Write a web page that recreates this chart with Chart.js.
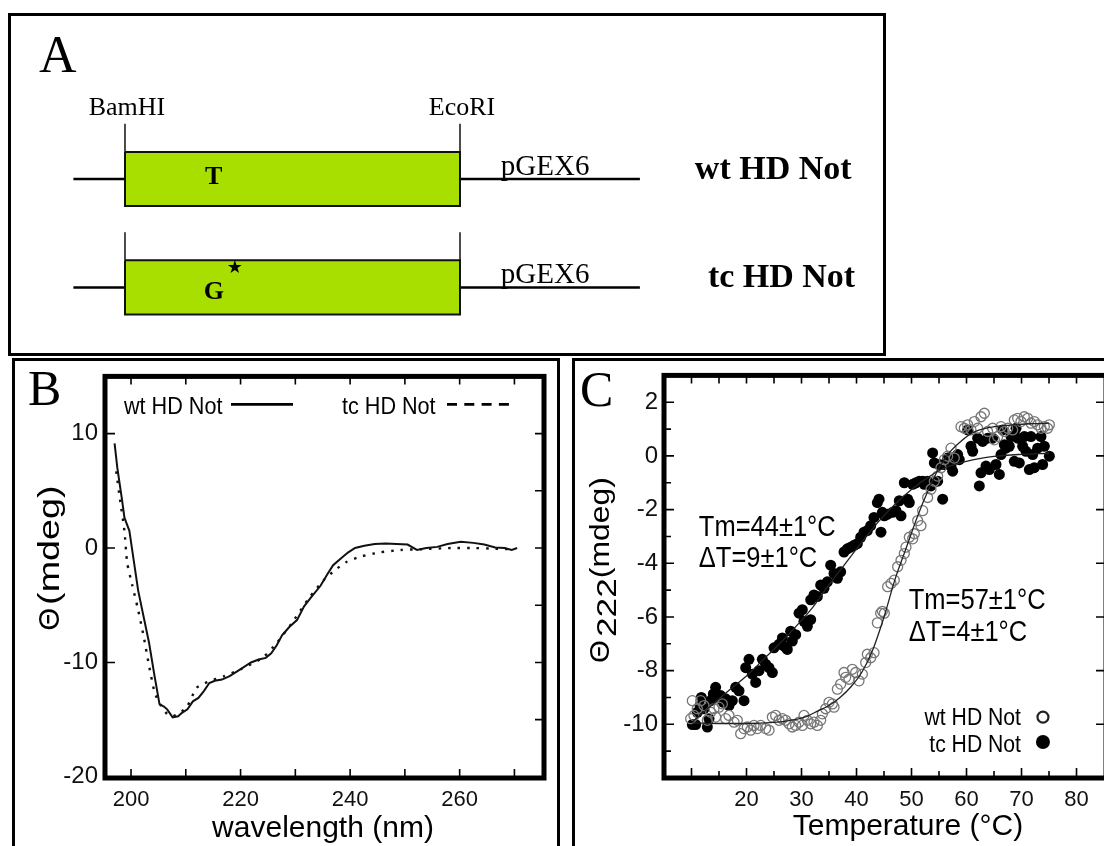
<!DOCTYPE html>
<html>
<head>
<meta charset='utf-8'>
<title>HD Not constructs, CD spectra and thermal melts</title>
<style>
  html, body { margin: 0; padding: 0; background: #fff; }
  body { position: relative; width: 1104px; height: 846px; overflow: hidden; }
  .frame { position: absolute; box-sizing: border-box; border: 3px solid #000; }
  canvas { position: absolute; }
</style>
</head>
<body>
  <div class="frame" style="left: 8px; top: 13px; width: 878px; height: 343px;"></div>
  <div class="frame" style="left: 12px; top: 358px; width: 548px; height: 540px;"></div>
  <div class="frame" style="left: 572px; top: 358px; width: 560px; height: 540px;"></div>
  <canvas id="chart-a" width="900" height="358" style="left: 0; top: 0;"></canvas>
  <canvas id="chart-b" width="560" height="491" style="left: 0; top: 355px;"></canvas>
  <canvas id="chart-c" width="560" height="491" style="left: 570px; top: 355px;"></canvas>

  <script src="https://cdn.jsdelivr.net/npm/chart.js"></script>
  <script>
// ---- A: constructs (schematic units, insert runs from BamHI=0 to EcoRI=100)
const siteNames = ['BamHI', 'EcoRI'];
const sitePos = [0, 100];
const backboneEnds = [-15.4, 153.7];
const constructNames = ['wt HD Not', 'tc HD Not'];
const codonLetters = ['T', 'G'];
const codonPos = 26.5;
const mutatedRow = 1;
const vectorName = 'pGEX6';

// ---- B: CD spectra
const wtWavelength = [197.0, 197.5, 198.3, 198.8, 199.7, 200.5, 201.3, 202.3, 203.3, 204.3, 205.2, 206.0, 206.6, 207.6, 208.6, 209.3, 210.3, 211.3, 212.3, 213.3, 214.3, 215.3, 216.6, 218.0, 219.3, 220.3, 221.9, 223.3, 224.6, 225.6, 226.6, 227.6, 228.9, 230.3, 231.6, 232.9, 234.6, 235.9, 236.9, 238.2, 239.6, 240.9, 242.6, 244.5, 246.5, 248.5, 250.5, 252.2, 253.9, 255.9, 257.8, 260.2, 262.5, 264.5, 266.5, 268.2, 269.5, 270.5];
const wtTheta = [9.15, 7.0, 4.4, 2.65, 1.5, -1.1, -3.7, -6.0, -8.3, -11.2, -13.65, -13.85, -14.1, -14.8, -14.7, -14.4, -14.1, -13.4, -13.1, -12.5, -11.8, -11.6, -11.5, -11.2, -10.8, -10.5, -10.0, -9.75, -9.6, -9.2, -8.5, -7.6, -6.9, -6.3, -5.1, -4.3, -3.3, -2.25, -1.5, -0.95, -0.4, 0.0, 0.2, 0.35, 0.4, 0.35, 0.3, -0.17, 0.0, 0.1, 0.35, 0.55, 0.45, 0.3, 0.05, 0.0, -0.17, 0.0];
const tcWavelength = [197.3, 198.0, 198.8, 199.3, 200.2, 201.2, 202.3, 203.3, 204.3, 205.3, 206.6, 207.6, 209.0, 210.3, 212.0, 214.0, 217.0, 220.0, 224.0, 226.6, 229.3, 232.6, 235.2, 237.2, 239.2, 241.9, 245.2, 249.2, 253.2, 258.5, 262.5, 265.8, 269.2];
const tcTheta = [6.7, 4.2, 1.5, -1.3, -3.2, -5.2, -7.7, -10.3, -12.6, -13.65, -14.5, -14.7, -14.4, -13.8, -12.2, -11.7, -11.2, -10.6, -9.6, -8.3, -6.6, -4.3, -2.8, -1.95, -1.25, -0.75, -0.4, -0.17, -0.1, 0.0, 0.0, -0.05, -0.1];
const bTickX = [200, 220, 240, 260];
const bTickY = [-20, -10, 0, 10];
const bMarkX = [200, 210, 220, 230, 240, 250, 260, 270];
const bMarkYRight = [-15, -10, -5, 0, 5, 10];

// ---- C: thermal denaturation at 222 nm
const wtTemp = [9.85, 10.15, 10.45, 11.06, 11.67, 12.27, 12.88, 13.48, 14.09, 14.39, 15.0, 15.61, 16.21, 16.82, 17.73, 18.33, 18.94, 19.55, 20.15, 20.76, 21.36, 21.97, 22.58, 23.48, 24.09, 24.7, 25.3, 25.91, 26.52, 27.12, 27.73, 28.33, 28.94, 29.55, 30.15, 30.45, 31.06, 31.67, 32.27, 32.88, 33.48, 33.79, 34.39, 35.0, 35.61, 35.91, 36.52, 37.12, 37.73, 38.03, 38.64, 39.24, 39.85, 40.45, 41.06, 41.67, 41.97, 42.58, 43.18, 43.79, 44.39, 44.7, 45.06, 45.66, 46.27, 46.87, 47.48, 48.09, 48.69, 48.99, 49.6, 50.21, 50.51, 51.12, 51.72, 52.03, 52.93, 53.54, 54.15, 54.75, 55.36, 55.97, 56.57, 57.18, 57.78, 59.0, 59.6, 60.21, 60.81, 61.42, 62.03, 62.63, 63.24, 63.84, 64.75, 65.06, 65.66, 66.27, 66.87, 67.48, 68.39, 68.69, 69.3, 69.9, 70.51, 71.12, 71.72, 72.33, 72.93, 73.54, 74.15, 74.75, 75.06];
const wtTheta222 = [-9.79, -9.12, -9.67, -9.42, -9.12, -9.3, -9.85, -9.55, -9.42, -9.73, -9.36, -9.24, -9.79, -9.67, -9.92, -9.85, -10.35, -10.16, -10.1, -10.22, -10.04, -10.16, -10.04, -10.16, -10.22, -9.73, -9.67, -9.85, -9.79, -9.85, -9.98, -10.1, -10.04, -9.92, -10.04, -9.67, -9.85, -9.98, -9.92, -10.04, -9.85, -9.61, -9.42, -9.18, -9.24, -9.36, -8.69, -8.5, -8.07, -8.25, -8.32, -7.95, -8.07, -8.38, -8.13, -7.7, -7.39, -7.52, -7.33, -6.22, -5.86, -5.79, -5.86, -4.87, -4.75, -4.63, -4.13, -3.89, -3.64, -3.4, -3.03, -3.09, -2.9, -2.41, -2.6, -2.04, -1.55, -1.24, -0.94, -0.75, -0.44, -0.14, -0.01, 0.29, -0.08, 1.09, 1.03, 1.16, 0.97, 1.28, 1.03, 1.46, 1.59, 0.91, 1.03, 0.6, 0.72, 1.09, 0.91, 1.03, 0.97, 1.34, 1.4, 1.28, 1.46, 1.4, 1.22, 1.28, 1.16, 1.03, 1.09, 1.03, 1.16];
const tcTemp = [10.15, 10.76, 11.06, 11.55, 11.79, 12.27, 12.88, 13.18, 13.48, 13.97, 14.39, 14.7, 15.3, 15.79, 16.21, 16.82, 17.42, 18.03, 18.64, 19.55, 19.85, 20.45, 21.06, 21.67, 22.27, 22.88, 23.48, 24.09, 24.7, 25.0, 25.91, 26.52, 26.82, 27.42, 28.03, 28.33, 28.94, 29.55, 30.15, 30.45, 31.06, 31.67, 31.67, 32.27, 32.88, 33.48, 34.09, 34.7, 35.3, 35.91, 36.52, 37.12, 37.73, 38.33, 38.94, 39.55, 40.15, 40.76, 41.36, 41.97, 42.58, 43.18, 43.79, 44.09, 44.45, 44.7, 45.06, 45.66, 46.57, 47.18, 47.78, 48.09, 48.69, 49.3, 49.6, 50.21, 50.81, 51.42, 52.03, 52.33, 52.93, 53.54, 53.84, 54.15, 54.75, 55.06, 55.66, 55.97, 56.57, 57.18, 57.48, 58.09, 58.39, 58.69, 60.21, 60.81, 61.12, 62.03, 62.33, 62.63, 62.93, 63.54, 63.84, 64.15, 64.75, 65.36, 65.97, 66.27, 66.57, 66.87, 67.18, 67.78, 68.09, 68.69, 69.0, 69.3, 69.6, 70.21, 70.51, 70.81, 71.42, 71.72, 72.03, 72.33, 72.93, 73.54, 73.84, 74.15, 75.06];
const tcTheta222 = [-10.01, -10.01, -9.55, -9.3, -9.0, -9.42, -10.1, -9.79, -9.12, -8.87, -8.62, -9.0, -8.93, -9.18, -9.05, -9.3, -9.12, -8.62, -8.75, -9.12, -7.89, -7.58, -8.13, -8.44, -8.0, -7.58, -7.76, -7.89, -8.07, -7.15, -7.02, -6.78, -7.09, -7.21, -6.53, -6.9, -6.66, -5.86, -5.73, -6.16, -6.35, -6.1, -5.36, -5.18, -5.24, -4.81, -4.93, -4.69, -4.07, -4.38, -4.56, -4.32, -3.58, -3.46, -3.4, -3.33, -3.27, -3.03, -2.84, -2.78, -2.6, -2.29, -1.74, -1.61, -2.84, -2.1, -2.23, -2.17, -2.1, -2.04, -1.67, -2.23, -1.0, -1.61, -1.74, -1.06, -1.0, -0.94, -0.94, -1.06, -0.94, -1.12, 0.11, -0.26, -0.94, -0.32, -1.61, -0.32, -0.08, -0.38, -0.57, -0.01, 0.05, -0.14, 0.97, 0.36, 0.17, 0.66, -1.12, -0.63, 0.54, -0.38, 0.66, -0.51, 0.66, -0.32, -0.69, 0.05, 0.97, 0.42, 0.29, 0.36, 0.72, -0.2, 1.03, 0.66, -0.26, 0.36, 0.72, 0.17, -0.51, 0.72, 0.05, -0.44, 0.29, 0.72, -0.32, 0.36, -0.01];
const wtFitTemp = [10.2, 15, 20, 25, 28, 31, 33, 35, 37, 39, 41, 43, 45, 47, 49, 51, 53, 55, 57, 59, 61, 64, 68, 72, 75];
const wtFitTheta = [-9.95, -9.97, -9.97, -9.93, -9.85, -9.7, -9.5, -9.3, -9.0, -8.6, -8.05, -7.2, -6.0, -4.6, -3.45, -2.3, -1.3, -0.45, 0.15, 0.55, 0.85, 1.05, 1.15, 1.2, 1.22];
const tcFitTemp = [10.2, 13, 17, 20, 23, 26, 29, 32, 35, 38, 41, 44, 47, 50, 53, 56, 60, 65, 70, 75];
const tcFitTheta = [-9.9, -9.4, -8.7, -8.2, -7.6, -7.0, -6.35, -5.65, -4.8, -4.0, -3.2, -2.45, -1.8, -1.25, -0.8, -0.45, -0.2, -0.02, 0.06, 0.1];
const cTickX = [20, 30, 40, 50, 60, 70, 80];
const cTickY = [-10, -8, -6, -4, -2, 0, 2];
const cMarkX = [10, 15, 20, 25, 30, 35, 40, 45, 50, 55, 60, 65, 70, 75, 80];
const cMarkXMajor = [10, 20, 30, 40, 50, 60, 70, 80];
const cMarkYMinor = [-11, -9, -7, -5, -3, -1, 1];
const tcNote = ['Tm=44±1°C', 'ΔT=9±1°C'];
const wtNote = ['Tm=57±1°C', 'ΔT=4±1°C'];

const serif = "'Liberation Serif', 'Times New Roman', serif";
const sans = "'Liberation Sans', Arial, sans-serif";
const green = '#a8df00';

Chart.defaults.font.family = sans;
Chart.defaults.color = '#111';
Chart.defaults.animation = false;
Chart.defaults.responsive = false;
Chart.defaults.events = [];
Chart.defaults.plugins.legend.display = false;
Chart.defaults.plugins.tooltip.enabled = false;

const zip = (xs, ys) => xs.map((v, i) => ({ x: v, y: ys[i] }));
const fixTicks = values => scale => { scale.ticks = values.map(v => ({ value: v })); };

function label(ctx, text, x, y, font, opt = {}) {
    ctx.save();
    ctx.font = font;
    ctx.fillStyle = opt.color || '#000';
    ctx.textAlign = opt.align || 'left';
    ctx.textBaseline = opt.baseline || 'alphabetic';
    ctx.translate(x, y);
    ctx.scale(opt.sx || 1, 1);
    ctx.fillText(text, 0, 0);
    ctx.restore();
}

// vertical axis title built from pieces, read bottom to top
function sideTitle(ctx, parts, x, yMid) {
    ctx.save();
    ctx.translate(x, yMid);
    ctx.rotate(-Math.PI / 2);
    ctx.fillStyle = '#000';
    const widths = parts.map(p => {
        ctx.font = `${p.size}px ${sans}`;
        return ctx.measureText(p.text).width * p.sx + (p.gap || 0);
    });
    let pos = -widths.reduce((a, b) => a + b, 0) / 2;
    parts.forEach((p, i) => {
        ctx.save();
        ctx.font = `${p.size}px ${sans}`;
        ctx.translate(pos, p.shift || 0);
        ctx.scale(p.sx, 1);
        ctx.fillText(p.text, 0, 0);
        ctx.restore();
        pos += widths[i];
    });
    ctx.restore();
}

// heavy plot frame with inward tick marks
const frameTicks = {
    id: 'frameTicks',
    afterDatasetsDraw(chart, args, opts) {
        const { ctx, chartArea: a, scales: { x, y } } = chart;
        ctx.save();
        ctx.strokeStyle = '#000';
        ctx.lineWidth = 1.6;
        ctx.beginPath();
        (opts.bottom || []).forEach(([vals, len]) => vals.forEach(v => {
            const p = x.getPixelForValue(v); ctx.moveTo(p, a.bottom); ctx.lineTo(p, a.bottom - len);
        }));
        (opts.top || []).forEach(([vals, len]) => vals.forEach(v => {
            const p = x.getPixelForValue(v); ctx.moveTo(p, a.top); ctx.lineTo(p, a.top + len);
        }));
        (opts.left || []).forEach(([vals, len]) => vals.forEach(v => {
            const p = y.getPixelForValue(v); ctx.moveTo(a.left, p); ctx.lineTo(a.left + len, p);
        }));
        (opts.right || []).forEach(([vals, len]) => vals.forEach(v => {
            const p = y.getPixelForValue(v); ctx.moveTo(a.right, p); ctx.lineTo(a.right - len, p);
        }));
        ctx.stroke();
        ctx.lineWidth = 5;
        ctx.strokeRect(a.left, a.top, a.right - a.left, a.bottom - a.top);
        ctx.restore();
    }
};

const axisStyle = (min, max, ticks, extra) => Object.assign({
    type: 'linear', min: min, max: max,
    afterBuildTicks: fixTicks(ticks),
    grid: { display: false, drawTicks: false },
    border: { display: false },
}, extra);

// ---------------- panel A ----------------
const aSets = [];
constructNames.forEach((name, r) => {
    aSets.push({ data: [{ x: sitePos[0], y: r - 0.25 }, { x: sitePos[1], y: r - 0.25 }],
        fill: { value: r + 0.25 }, backgroundColor: green, borderWidth: 0, order: 3 });
    aSets.push({ data: [{ x: sitePos[0], y: r - 0.25 }, { x: sitePos[1], y: r - 0.25 }, { x: sitePos[1], y: r + 0.25 },
        { x: sitePos[0], y: r + 0.25 }, { x: sitePos[0], y: r - 0.25 }], borderColor: '#111', borderWidth: 2, order: 1 });
    aSets.push({ data: [{ x: backboneEnds[0], y: r }, { x: sitePos[0], y: r }], borderColor: '#000', borderWidth: 2.5, order: 2 });
    aSets.push({ data: [{ x: sitePos[1], y: r }, { x: backboneEnds[1], y: r }], borderColor: '#000', borderWidth: 2.5, order: 2 });
    sitePos.forEach(s => aSets.push({ data: [{ x: s, y: r - 0.25 }, { x: s, y: r - 0.51 }], borderColor: '#000', borderWidth: 1.4, order: 2 }));
});
aSets.forEach(d => { d.showLine = true; d.pointRadius = 0; });

const aText = {
    id: 'aText',
    afterDatasetsDraw(chart) {
        const { ctx, scales: { x, y } } = chart;
        label(ctx, 'A', 39, 72, `52px ${serif}`);
        siteNames.forEach((s, i) => label(ctx, s, x.getPixelForValue(sitePos[i]) + 2, y.getPixelForValue(-0.59), `26px ${serif}`, { align: 'center' }));
        const codonBase = [0.05, 0.11];
        const nameX = [170.1, 174.0];
        constructNames.forEach((name, r) => {
            label(ctx, codonLetters[r], x.getPixelForValue(codonPos), y.getPixelForValue(r + codonBase[r]), `bold 26px ${serif}`, { align: 'center' });
            label(ctx, vectorName, x.getPixelForValue(112.2), y.getPixelForValue(r - 0.04), `29px ${serif}`);
            label(ctx, name, x.getPixelForValue(nameX[r]), y.getPixelForValue(r), `bold 34px ${serif}`);
        });
        label(ctx, '★', x.getPixelForValue(codonPos + 6.3), y.getPixelForValue(mutatedRow - 0.18), `18px 'DejaVu Sans'`, { align: 'center', baseline: 'middle' });
    }
};

new Chart(document.getElementById('chart-a'), {
    type: 'scatter',
    data: { datasets: aSets },
    options: {
        layout: { padding: 0 },
        scales: {
            x: { type: 'linear', display: false, min: -37.31, max: 231.34 },
            y: { type: 'linear', display: false, min: -1.65, max: 1.65, reverse: true }
        }
    },
    plugins: [aText]
});

// ---------------- panel B ----------------
const bText = {
    id: 'bText',
    afterDraw(chart) {
        const { ctx, chartArea: a } = chart;
        const ds = chart.data.datasets;
        label(ctx, 'B', 28, 50, `50px ${serif}`);
        // legend: name then line sample
        const legendFont = `24px ${sans}`;
        label(ctx, ds[0].label, a.left + 19, a.top + 38, legendFont, { sx: 0.9 });
        label(ctx, ds[1].label, a.left + 237, a.top + 38, legendFont, { sx: 0.9 });
        ctx.save();
        ctx.strokeStyle = '#000';
        ctx.lineWidth = 2.6;
        ctx.beginPath(); ctx.moveTo(a.left + 126, a.top + 28); ctx.lineTo(a.left + 188, a.top + 28); ctx.stroke();
        ctx.setLineDash([10, 7.3]);
        ctx.beginPath(); ctx.moveTo(a.left + 342, a.top + 28); ctx.lineTo(a.left + 404, a.top + 28); ctx.stroke();
        ctx.restore();
        label(ctx, 'wavelength (nm)', 323, 482, `30px ${sans}`, { align: 'center' });
        sideTitle(ctx, [
            { text: 'Θ', size: 29, sx: 1.0, gap: 3 },
            { text: '(mdeg)', size: 29, sx: 1.3 }
        ], 59, 203);
    }
};

new Chart(document.getElementById('chart-b'), {
    type: 'scatter',
    data: {
        datasets: [
            { label: 'wt HD Not', data: zip(wtWavelength, wtTheta), showLine: true, borderColor: '#111', borderWidth: 2, pointRadius: 0 },
            { label: 'tc HD Not', data: zip(tcWavelength, tcTheta), showLine: true, borderColor: '#111', borderWidth: 2.4,
              borderDash: [2.5, 7], pointRadius: 0, tension: 0.2 }
        ]
    },
    options: {
        layout: { padding: { left: 0, top: 17, right: 16, bottom: 0 } },
        scales: {
            x: axisStyle(195.25, 275.4, bTickX, {
                afterFit: s => { s.height = 68; },
                ticks: { padding: 9, maxRotation: 0, autoSkip: false, font: { size: 22 } }
            }),
            y: axisStyle(-20.1, 15, bTickY, {
                afterFit: s => { s.width = 105; },
                ticks: { padding: 7, autoSkip: false, font: { size: 24 } }
            })
        },
        plugins: {
            frameTicks: {
                bottom: [[bMarkX, 9]], top: [[bMarkX, 8]],
                left: [[bTickY, 10]], right: [[bMarkYRight, 9]]
            }
        }
    },
    plugins: [frameTicks, bText]
});

// ---------------- panel C ----------------
const cText = {
    id: 'cText',
    afterDraw(chart) {
        const { ctx, scales: { x, y } } = chart;
        label(ctx, 'C', 10, 51, `50px ${serif}`);
        const noteFont = `30px ${sans}`;
        [[tcNote, 11.33, [-2.98, -4.13]], [wtNote, 49.5, [-5.7, -6.89]]].forEach(([lines, vx, vy]) => {
            lines.forEach((t, i) => label(ctx, t, x.getPixelForValue(vx), y.getPixelForValue(vy[i]), noteFont, { sx: 0.85 }));
        });
        // legend, bottom right
        const ds = chart.data.datasets;
        const legendFont = `23px ${sans}`;
        const tx = x.getPixelForValue(69.9), mx = x.getPixelForValue(73.9);
        label(ctx, ds[2].label, tx, y.getPixelForValue(-10.03), legendFont, { align: 'right', sx: 0.92 });
        label(ctx, ds[3].label, tx, y.getPixelForValue(-11.03), legendFont, { align: 'right', sx: 0.92 });
        ctx.save();
        ctx.lineWidth = 2.2;
        ctx.strokeStyle = '#222';
        ctx.beginPath(); ctx.arc(mx, y.getPixelForValue(-9.73), 5.5, 0, Math.PI * 2); ctx.stroke();
        ctx.fillStyle = '#000';
        ctx.beginPath(); ctx.arc(mx, y.getPixelForValue(-10.66), 7, 0, Math.PI * 2); ctx.fill();
        ctx.restore();
        label(ctx, 'Temperature (°C)', 338, 480, `30px ${sans}`, { align: 'center' });
        sideTitle(ctx, [
            { text: 'Θ', size: 28, sx: 1.05, gap: 3 },
            { text: '222', size: 28, sx: 1.26, shift: 7 },
            { text: '(mdeg)', size: 28, sx: 1.14 }
        ], 39, 215);
    }
};

new Chart(document.getElementById('chart-c'), {
    type: 'scatter',
    data: {
        datasets: [
            { label: 'wt fit', data: zip(wtFitTemp, wtFitTheta), showLine: true, borderColor: '#222', borderWidth: 1.3,
              pointRadius: 0, cubicInterpolationMode: 'monotone', order: 0 },
            { label: 'tc fit', data: zip(tcFitTemp, tcFitTheta), showLine: true, borderColor: '#222', borderWidth: 1.3,
              pointRadius: 0, cubicInterpolationMode: 'monotone', order: 0 },
            { label: 'wt HD Not', data: zip(wtTemp, wtTheta222), pointRadius: 5, borderWidth: 1.3,
              borderColor: '#777', backgroundColor: 'rgba(255,255,255,0)', order: 1 },
            { label: 'tc HD Not', data: zip(tcTemp, tcTheta222), pointRadius: 5.5, borderWidth: 0,
              borderColor: '#000', backgroundColor: '#000', order: 2 }
        ]
    },
    options: {
        layout: { padding: { left: 0, top: 17, right: 24, bottom: 0 } },
        scales: {
            x: axisStyle(5, 85.36, cTickX, {
                afterFit: s => { s.height = 68; },
                ticks: { padding: 9, maxRotation: 0, autoSkip: false, font: { size: 22 } }
            }),
            y: axisStyle(-12, 3, cTickY, {
                afterFit: s => { s.width = 94; },
                ticks: { padding: 6, autoSkip: false, font: { size: 24 } }
            })
        },
        plugins: {
            frameTicks: {
                bottom: [[cMarkXMajor, 10], [cMarkX, 7]], top: [[cMarkX, 8]],
                left: [[cTickY, 10], [cMarkYMinor, 7]], right: [[cTickY, 10]]
            }
        }
    },
    plugins: [frameTicks, cText]
});
  </script>
</body>
</html>
